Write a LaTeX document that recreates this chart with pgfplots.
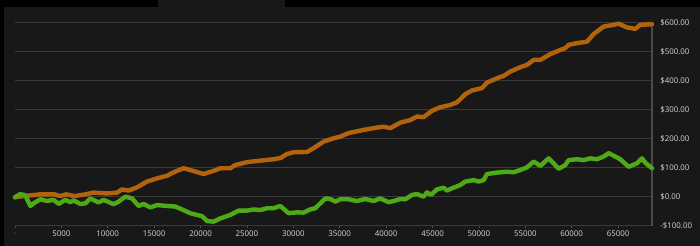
\documentclass[border=0pt]{standalone}
\usepackage{pgfplots}
\pgfplotsset{compat=1.18}
\usepackage{fontspec}
\setmainfont{Open Sans}
\definecolor{bgpanel}{HTML}{181818}
\definecolor{gridc}{HTML}{3A3A3A}
\definecolor{axc}{HTML}{4A4A4A}
\definecolor{labc}{HTML}{D8D8D8}
\definecolor{orangeline}{HTML}{B2630C}
\definecolor{greenline}{HTML}{4EAA16}
\begin{document}
\begin{tikzpicture}
\fill[black] (0,0) rectangle (525pt,184.5pt);
\fill[bgpanel] (3pt,0) rectangle (525pt,179.25pt);
\fill[bgpanel] (118.5pt,179pt) rectangle (213.75pt,184.5pt);
\begin{axis}[
  at={(11.175pt,15.225pt)}, anchor=south west,
  scale only axis, width=477.8pt, height=152.4pt,
  xmin=0, xmax=68650, ymin=-100, ymax=600,
  clip=false,
  axis line style={draw=none},
  ymajorgrids, major grid style={color=gridc, line width=0.9pt},
  xtick={0,5000,10000,15000,20000,25000,30000,35000,40000,45000,50000,55000,60000,65000},
  xticklabels={$\cdot$,5000,10000,15000,20000,25000,30000,35000,40000,45000,50000,55000,60000,65000},
  ytick={-100,0,100,200,300,400,500,600},
  yticklabels={-\$100.00,\$0.00,\$100.00,\$200.00,\$300.00,\$400.00,\$500.00,\$600.00},
  yticklabel pos=right,
  xtick pos=bottom,
  tick align=outside,
  major tick length=2pt,
  xtick style={color=axc, line width=0.6pt},
  ytick style={draw=none},
  xticklabel style={anchor=center, inner sep=0pt, yshift=-4pt, text=labc, font=\fontsize{5.9pt}{7pt}\selectfont},
  yticklabel style={anchor=west, inner sep=0pt, xshift=4.1pt, text=labc, font=\fontsize{5.9pt}{7pt}\selectfont},
]
\draw[axc, line width=0.8pt] (rel axis cs:1,0) -- (rel axis cs:1,1);
\addplot[orangeline, line width=3.3pt, line join=round, line cap=round] coordinates {
(0,-2) (1200,3) (2740,8) (4300,8) (4830,2) (5540,8) (6400,2) (7600,8) (8480,14) (9920,11) (11000,14) (11540,25) (12260,21) (13160,32) (14230,52) (15310,63) (16390,72) (17100,84) (18180,98) (19080,90) (20330,78) (21410,89) (22130,98) (23210,98) (23750,109) (25010,119) (26440,124) (27880,129) (28600,133) (29320,147) (30030,153) (31480,154) (32190,167) (33270,190) (34340,201) (35060,207) (35960,219) (37580,230) (39020,238) (39730,241) (40450,236) (41530,255) (42610,264) (43330,276) (44040,274) (44950,296) (45840,308) (46920,316) (47640,325) (48530,353) (49260,366) (50330,374) (50870,393) (51950,408) (52660,416) (53380,431) (54460,446) (55180,454) (55900,471) (56610,471) (57690,491) (58590,503) (59310,512) (59670,523) (60570,529) (61650,534) (62360,560) (63440,586) (64520,592) (65060,596) (65960,583) (66850,578) (67390,592) (68650,594)
};
\addplot[greenline, line width=3.3pt, line join=round, line cap=round] coordinates {
(0,-2) (580,9) (1120,5) (1660,-32) (2020,-23) (2740,-9) (3460,-15) (4180,-11) (4710,-25) (5430,-11) (5970,-19) (6330,-13) (7050,-25) (7590,-23) (8130,-6) (9020,-20) (9560,-11) (10640,-26) (11180,-17) (11900,0) (12620,-6) (13330,-32) (13870,-25) (14590,-37) (15310,-29) (16390,-32) (17290,-34) (18010,-44) (18900,-57) (19620,-63) (20160,-67) (20700,-84) (21410,-86) (22130,-75) (23210,-63) (24110,-48) (25010,-48) (25730,-44) (26440,-46) (27160,-40) (27880,-40) (28600,-32) (29500,-57) (30390,-54) (31110,-55) (31830,-44) (32370,-40) (32910,-23) (33450,-6) (33990,-8) (34530,-17) (35060,-9) (35960,-9) (36860,-15) (37760,-8) (38660,-15) (39370,-6) (40270,-19) (40810,-15) (41530,-8) (42070,-9) (42790,6) (43330,9) (44040,0) (44400,15) (44830,6) (45480,25) (46200,31) (46560,21) (47100,29) (47990,40) (48530,52) (49430,57) (49980,52) (50510,57) (50870,78) (51950,83) (53030,86) (53740,84) (54460,92) (55180,101) (55900,121) (56610,106) (57510,132) (58050,115) (58590,96) (59310,109) (59670,126) (60570,129) (61290,126) (62010,132) (62720,129) (63440,138) (63980,150) (64700,138) (65230,129) (66130,103) (67030,115) (67570,132) (67930,117) (68650,98)
};
\end{axis}
\pgfresetboundingbox
\useasboundingbox (0,0) rectangle (525pt,184.5pt);
\end{tikzpicture}
\end{document}
